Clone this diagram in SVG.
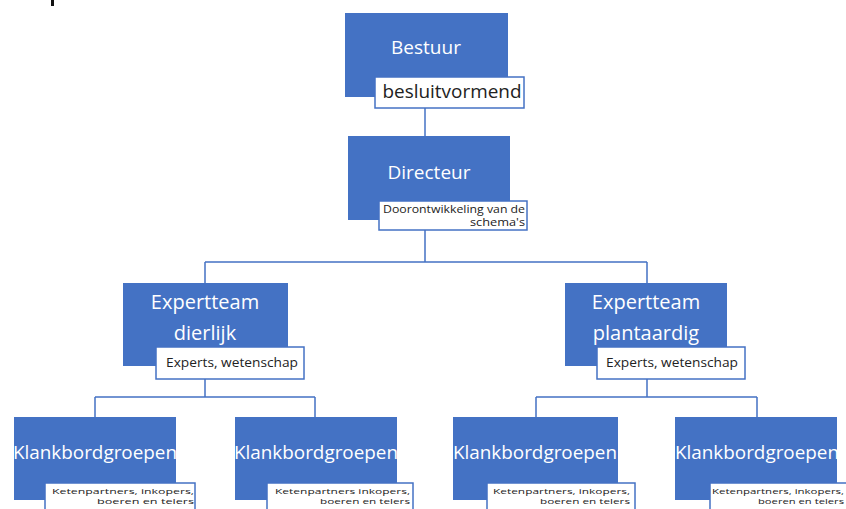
<svg xmlns="http://www.w3.org/2000/svg" width="846" height="509" viewBox="0 0 846 509">
<style>
.box{fill:#4472C4;}
.lbl{fill:#FFFFFF;stroke:#4472C4;stroke-width:1.5;}
.t{font-family:"Open Sans","Liberation Sans",sans-serif;fill:#FFFFFF;font-size:19px;text-anchor:middle;}
.e{font-size:20px;}
.s{font-family:"Open Sans","Liberation Sans",sans-serif;fill:#222222;}
.k{font-size:10px;}
.m{font-size:8px;}
.c{stroke:#4472C4;stroke-width:1.5;fill:none;}
</style>
<rect x="51" y="0" width="3" height="6" fill="#111111"/>
<g id="connectors">
<path class="c" d="M425 108V136"/>
<path class="c" d="M425 230V262M205 262H647M205 262V283M647 262V283"/>
<path class="c" d="M205 379V397M95 397H315M95 397V417M315 397V417"/>
<path class="c" d="M647 379V397M536 397H757M536 397V417M757 397V417"/>
</g>
<g id="bestuur">
<rect class="box" x="345" y="13" width="163" height="84"/>
<text class="t" x="426" y="54">Bestuur</text>
<rect class="lbl" x="375" y="77" width="149" height="31"/>
<text class="s" x="452" y="98" font-size="18" text-anchor="middle" textLength="139" lengthAdjust="spacingAndGlyphs">besluitvormend</text>
</g>
<g id="directeur">
<rect class="box" x="348" y="136" width="162" height="84"/>
<text class="t" x="429" y="179">Directeur</text>
<rect class="lbl" x="379" y="201" width="148" height="29"/>
<text class="s k" x="383" y="213" textLength="142" lengthAdjust="spacingAndGlyphs">Doorontwikkeling van de</text>
<text class="s k" x="470" y="226" textLength="55" lengthAdjust="spacingAndGlyphs">schema's</text>
</g>
<g id="expert-dierlijk">
<rect class="box" x="123" y="283" width="165" height="83"/>
<text class="t e" x="205" y="309">Expertteam</text>
<text class="t e" x="205" y="340">dierlijk</text>
<rect class="lbl" x="156" y="347" width="148" height="32"/>
<text class="s" x="166" y="367" font-size="12" textLength="132" lengthAdjust="spacingAndGlyphs">Experts, wetenschap</text>
</g>
<g id="expert-plantaardig">
<rect class="box" x="565" y="283" width="162" height="83"/>
<text class="t e" x="646" y="309">Expertteam</text>
<text class="t e" x="646" y="340">plantaardig</text>
<rect class="lbl" x="597" y="347" width="148" height="32"/>
<text class="s" x="606" y="367" font-size="12" textLength="132" lengthAdjust="spacingAndGlyphs">Experts, wetenschap</text>
</g>
<g id="klank1">
<rect class="box" x="14" y="417" width="162" height="83"/>
<text class="t" x="95" y="459" textLength="164" lengthAdjust="spacingAndGlyphs">Klankbordgroepen</text>
<rect class="lbl" x="45" y="483" width="150" height="30"/>
<text class="s m" x="52" y="494" textLength="142" lengthAdjust="spacingAndGlyphs">Ketenpartners, inkopers,</text>
<text class="s m" x="97" y="504" textLength="97" lengthAdjust="spacingAndGlyphs">boeren en telers</text>
</g>
<g id="klank2">
<rect class="box" x="235" y="417" width="162" height="83"/>
<text class="t" x="316" y="459" textLength="164" lengthAdjust="spacingAndGlyphs">Klankbordgroepen</text>
<rect class="lbl" x="267" y="483" width="146" height="30"/>
<text class="s m" x="275" y="494" textLength="135" lengthAdjust="spacingAndGlyphs">Ketenpartners inkopers,</text>
<text class="s m" x="320" y="504" textLength="90" lengthAdjust="spacingAndGlyphs">boeren en telers</text>
</g>
<g id="klank3">
<rect class="box" x="453" y="417" width="165" height="83"/>
<text class="t" x="535" y="459" textLength="164" lengthAdjust="spacingAndGlyphs">Klankbordgroepen</text>
<rect class="lbl" x="487" y="483" width="148" height="30"/>
<text class="s m" x="493" y="494" textLength="137" lengthAdjust="spacingAndGlyphs">Ketenpartners, inkopers,</text>
<text class="s m" x="540" y="504" textLength="90" lengthAdjust="spacingAndGlyphs">boeren en telers</text>
</g>
<g id="klank4">
<rect class="box" x="675" y="417" width="162" height="83"/>
<text class="t" x="757" y="459" textLength="164" lengthAdjust="spacingAndGlyphs">Klankbordgroepen</text>
<rect class="lbl" x="710" y="483" width="150" height="30"/>
<text class="s m" x="712" y="494" textLength="132" lengthAdjust="spacingAndGlyphs">Ketenpartners, inkopers,</text>
<text class="s m" x="758" y="504" textLength="86" lengthAdjust="spacingAndGlyphs">boeren en telers</text>
</g>
</svg>
